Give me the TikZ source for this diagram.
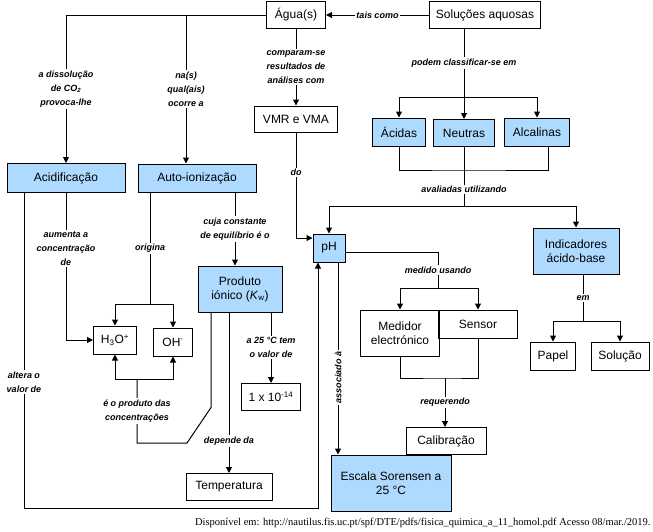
\documentclass[tikz,border=0pt]{standalone}
\usepackage{fontspec}
\setmainfont{Liberation Sans}
\newfontfamily\srcfont{Liberation Serif}
\usetikzlibrary{arrows.meta}
\definecolor{lblue}{RGB}{175,218,255}

\begin{document}
\begin{tikzpicture}[x=1pt,y=-1pt,
    box/.style={draw, line width=1pt, inner sep=2pt, align=center, font=\fontsize{12}{14}\selectfont},
    bluebox/.style={box, fill=lblue},
    lbl/.style={fill=white, inner sep=1.5pt, align=center, font=\bfseries\itshape\fontsize{9}{14}\selectfont},
    arr/.style={-{Triangle[length=6pt,width=6pt]}},
    every path/.style={line width=1pt}]
    \useasboundingbox (0,0) rectangle (653,531);

    \node[box, minimum width=59pt, minimum height=27pt] (agua) at (296,15) {Água(s)};
    \node[box, minimum width=111pt, minimum height=27pt] (sol) at (485,15) {Soluções aquosas};
    \node[box, minimum width=83pt, minimum height=26pt] (vmr) at (296,119) {VMR e VMA};
    \node[bluebox, minimum width=53pt, minimum height=28pt] (acidas) at (399,132) {Ácidas};
    \node[bluebox, minimum width=61pt, minimum height=27pt] (neutras) at (464,133) {Neutras};
    \node[bluebox, minimum width=65pt, minimum height=28pt] (alcal) at (537,132) {Alcalinas};
    \node[bluebox, minimum width=118pt, minimum height=29pt] (acid) at (66,178) {Acidificação};
    \node[bluebox, minimum width=118pt, minimum height=28pt] (auto) at (197,178) {Auto-ionização};
    \node[bluebox, minimum width=32pt, minimum height=28pt] (ph) at (329,248) {pH};
    \node[bluebox, minimum width=86pt, minimum height=46pt] (ind) at (576,251) {Indicadores\\ácido-base};
    \node[bluebox, minimum width=84pt, minimum height=46pt] (prod) at (240,289) {Produto\\iónico (\textit{K}\textsubscript{w})};
    \node[box, minimum width=43pt, minimum height=28pt] (h3o) at (115,340) {H\textsubscript{3}O\textsuperscript{+}};
    \node[box, minimum width=39pt, minimum height=28pt] (oh) at (173,342) {OH\textsuperscript{-}};
    \node[box, minimum width=79pt, minimum height=46pt] (med) at (400,333) {Medidor\\electrónico};
    \node[box, minimum width=79pt, minimum height=28pt] (sens) at (478,324) {Sensor};
    \node[box, minimum width=45pt, minimum height=28pt] (papel) at (553,356) {Papel};
    \node[box, minimum width=58pt, minimum height=28pt] (solucao) at (620,356) {Solução};
    \node[box, minimum width=59pt, minimum height=27pt] (kw) at (271,397) {1 x 10\textsuperscript{-14}};
    \node[box, minimum width=80pt, minimum height=27pt] (calib) at (446,441) {Calibração};
    \node[box, minimum width=86pt, minimum height=27pt] (temp) at (229,487) {Temperatura};
    \node[bluebox, minimum width=120pt, minimum height=56pt] (escala) at (391,483) {Escala Sorensen a\\25 °C};
    \node[anchor=east, inner sep=0pt, font=\srcfont\fontsize{10.5}{12}\selectfont] (fonte) at (651,523)
        {Disponível em: http://nautilus.fis.uc.pt/spf/DTE/pdfs/fisica\_quimica\_a\_11\_homol.pdf Acesso 08/mar./2019.};

    \coordinate (autoin) at ([xshift=-11pt]auto.north);
    \coordinate (classif) at (464,97);
    \coordinate (aval) at (464,170);
    \coordinate (utiliz) at (464,206);
    \coordinate (em) at (583,321);
    \coordinate (usando) at (438,288);
    \coordinate (req) at (445,378);
    \coordinate (assoc) at ([xshift=9pt]ph.south);
    \coordinate (alt) at (24,508);
    \coordinate (alt2) at (318,508);
    \coordinate (orig) at (150,304);
    \coordinate (cuja) at ([xshift=-5pt]prod.north);
    \coordinate (conc) at (137,379);
    \coordinate (dep) at ([xshift=-11pt]prod.south);
    \coordinate (val) at ([xshift=31pt]prod.south);

    \draw[arr] (sol) -- node[lbl]{tais como} (agua);
    \draw[arr] (agua.west) -| node[lbl,pos=0.75]{a dissolução\\de CO\textsubscript{2}\\provoca-lhe} (acid.north);
    \draw[arr] (autoin |- agua.west) -- node[lbl]{na(s)\\qual(ais)\\ocorre a} (autoin);
    \draw[arr] (agua) -- node[lbl]{comparam-se\\resultados de\\análises com} (vmr);
    \draw[arr] (vmr) |- node[lbl,pos=0.19]{do} ([yshift=10pt]ph.west);

    \draw (sol.south -| classif) -- node[lbl]{podem classificar-se em} (classif);
    \foreach \n in {acidas,neutras,alcal} {
        \draw[arr] (classif) -| (\n.north);
    }
    \draw (acidas.south) |- (aval) -| ([xshift=11pt]alcal.south);
    \draw (neutras.south) -- node[lbl,pos=0.72]{avaliadas utilizando} (utiliz);
    \draw[arr] (utiliz) -| (ph.north);
    \draw[arr] (utiliz) -| (ind.north);

    \draw (ind.south -| em) -- node[lbl]{em} (em);
    \draw[arr] (em) -| (papel.north);
    \draw[arr] (em) -| (solucao.north);

    \draw ([yshift=-4pt]ph.east) -| node[lbl,pos=0.75]{medido usando} (usando);
    \draw[arr] (usando) -| (med.north);
    \draw[arr] (usando) -| (sens.north);
    \draw (med.south) |- (req) -| (sens.south);
    \draw[arr] (req) -- node[lbl]{requerendo} (req |- calib.north);

    \draw[arr] (assoc) -- node[lbl,rotate=90,pos=0.6]{associado à} (assoc |- escala.north);
    \draw[arr] (acid.south -| alt) -- node[lbl,pos=0.6]{altera o\\valor de} (alt) -- (alt2) -- (alt2 |- ph.south);

    \draw[arr] (acid.south) |- node[lbl,pos=0.19]{aumenta a\\concentração\\de} (h3o.west);
    \draw (auto.south -| orig) -- node[lbl]{origina} (orig);
    \draw[arr] (orig) -| (h3o.north);
    \draw[arr] (orig) -| (oh.north);
    \draw[arr] (auto.south -| cuja) -- node[lbl]{cuja constante\\de equilíbrio é o} (cuja);

    \draw[arr] (conc) -| (h3o.south);
    \draw[arr] (conc) -| (oh.south);
    \draw ([xshift=-29pt]prod.south) -- ++(0,95) -- (187,443) -- (137,443) -- node[lbl]{é o produto das\\concentrações} (conc);
    \draw[arr] (dep) -- node[lbl,pos=0.8]{depende da} (temp);
    \draw[arr] (val) -- node[lbl]{a 25 °C tem\\o valor de} (kw);
\end{tikzpicture}
\end{document}
